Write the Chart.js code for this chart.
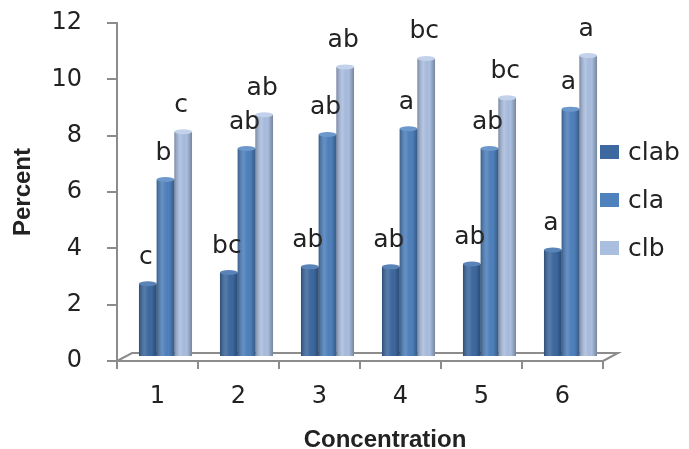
<!DOCTYPE html>
<html>
<head>
<meta charset="utf-8">
<script src="https://cdn.jsdelivr.net/npm/chart.js@4/dist/chart.umd.min.js"></script>
<style>
  html, body { margin: 0; padding: 0; background: #fff; }
  #wrap { width: 689px; height: 449px; }
</style>
</head>
<body>
<div id="wrap"><canvas id="grafico"></canvas></div>
<script>
// datos
const concentraciones = ['1', '2', '3', '4', '5', '6'];
const clab = [2.6, 3.0, 3.2, 3.2, 3.3, 3.8];
const cla = [6.3, 7.4, 7.9, 8.1, 7.4, 8.8];
const clb = [8.0, 8.6, 10.3, 10.6, 9.2, 10.7];
const letrasClab = ['c', 'bc', 'ab', 'ab', 'ab', 'a'];
const letrasCla = ['b', 'ab', 'ab', 'a', 'ab', 'a'];
const letrasClb = ['c', 'ab', 'ab', 'bc', 'bc', 'a'];
const marcasY = [0, 2, 4, 6, 8, 10, 12];

const gris = '#8c8c8c';
const fuente = '"DejaVu Sans", Verdana, sans-serif';
const fuenteTitulo = '"Liberation Sans", Arial, sans-serif';
const desplazo = { x: 8, y: -4 }; // profundidad 3D

// piso en perspectiva
const pisoPlugin = {
  id: 'piso',
  beforeDatasetsDraw(chart) {
    const { ctx, chartArea: a } = chart;
    ctx.save();
    ctx.strokeStyle = gris;
    ctx.lineWidth = 2;
    ctx.beginPath();
    ctx.moveTo(a.left, a.bottom);
    ctx.lineTo(a.left + 15, a.bottom - 8);
    ctx.lineTo(a.right + 15, a.bottom - 8);
    ctx.lineTo(a.right, a.bottom);
    ctx.stroke();
    ctx.restore();
    ctx.save();
    ctx.translate(desplazo.x, desplazo.y);
  },
  afterDatasetsDraw(chart) {
    const { ctx } = chart;
    // sombreado de cilindro + letras
    chart.data.datasets.forEach((ds, i) => {
      const meta = chart.getDatasetMeta(i);
      meta.data.forEach((el, j) => {
        const { x, y, base, width } = el.getProps(['x', 'y', 'base', 'width'], true);
        const izq = x - width / 2;
        const g = ctx.createLinearGradient(izq, 0, izq + width, 0);
        g.addColorStop(0, 'rgba(0,0,0,0.28)');
        g.addColorStop(0.35, 'rgba(255,255,255,0.12)');
        g.addColorStop(0.7, 'rgba(0,0,0,0)');
        g.addColorStop(1, 'rgba(0,0,0,0.3)');
        ctx.fillStyle = g;
        ctx.fillRect(izq, y, width, base - y);
        ctx.beginPath();
        ctx.ellipse(x, y, width / 2, 2.5, 0, 0, Math.PI * 2);
        ctx.fillStyle = ds.tapa;
        ctx.fill();
        ctx.fillStyle = '#222';
        ctx.font = '25px ' + fuente;
        ctx.textAlign = 'center';
        ctx.textBaseline = 'alphabetic';
        ctx.fillText(ds.letras[j], x - 2, y - 20);
      });
    });
    ctx.restore();
  },
  afterDraw(chart) {
    const { ctx } = chart;
    ctx.save();
    // leyenda
    chart.data.datasets.forEach((ds, i) => {
      const yy = 152 + i * 48;
      ctx.fillStyle = ds.backgroundColor;
      ctx.fillRect(600, yy - 7, 19, 14);
      ctx.fillStyle = '#222';
      ctx.font = '25px ' + fuente;
      ctx.textAlign = 'left';
      ctx.textBaseline = 'middle';
      ctx.fillText(ds.label, 628, yy + 1);
    });
    // titulo eje x
    ctx.font = 'bold 24px ' + fuenteTitulo;
    ctx.textAlign = 'center';
    ctx.textBaseline = 'middle';
    ctx.fillText('Concentration', 385, 440);
    ctx.restore();
  }
};

const ctx = document.getElementById('grafico').getContext('2d');
new Chart(ctx, {
  type: 'bar',
  data: {
    labels: concentraciones,
    datasets: [
      { label: 'clab', data: clab, backgroundColor: '#3d69a0', tapa: '#5a83b8', letras: letrasClab },
      { label: 'cla', data: cla, backgroundColor: '#4f81bd', tapa: '#6d98cc', letras: letrasCla },
      { label: 'clb', data: clb, backgroundColor: '#aabee0', tapa: '#c3d2ea', letras: letrasClb }
    ]
  },
  options: {
    responsive: true,
    maintainAspectRatio: false,
    animation: false,
    categoryPercentage: 0.655,
    barPercentage: 1,
    layout: { padding: { top: 23, right: 86, left: 0, bottom: 0 } },
    plugins: { legend: { display: false }, tooltip: { enabled: false } },
    scales: {
      x: {
        afterFit(scale) { scale.height = 88; },
        grid: { offset: true, drawOnChartArea: false, tickLength: 8, color: gris, lineWidth: 2 },
        border: { color: gris, width: 2 },
        ticks: { color: '#222', padding: 13, font: { family: fuente, size: 24 } }
      },
      y: {
        min: 0,
        max: 12,
        afterFit(scale) { scale.width = 117; scale.paddingTop = 0; scale.paddingBottom = 0; },
        afterBuildTicks(scale) { scale.ticks = marcasY.map(v => ({ value: v })); },
        grid: { drawOnChartArea: false, tickLength: 10, color: gris, lineWidth: 2 },
        border: { color: gris, width: 2 },
        ticks: { color: '#222', padding: 25, font: { family: fuente, size: 24 } },
        title: {
          display: true,
          text: 'Percent',
          color: '#222',
          padding: { top: 9, bottom: 0 },
          font: { family: fuenteTitulo, size: 24, weight: 'bold' }
        }
      }
    }
  },
  plugins: [pisoPlugin]
});
</script>
</body>
</html>
